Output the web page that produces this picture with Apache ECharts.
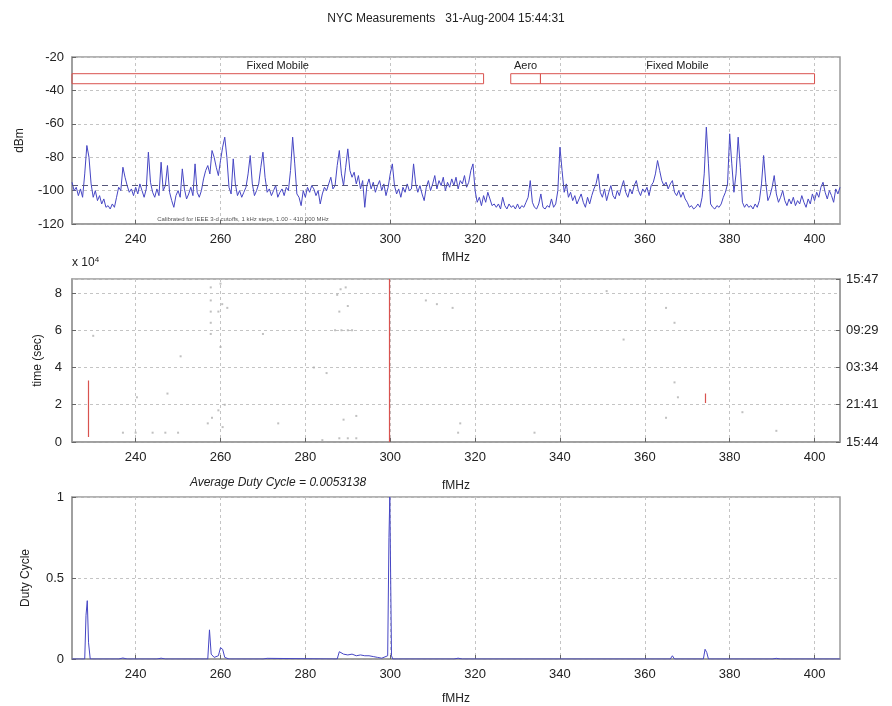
<!DOCTYPE html>
<html>
<head>
<meta charset="utf-8">
<script src="https://cdn.jsdelivr.net/npm/echarts@6/dist/echarts.min.js"></script>
<style>
html,body{margin:0;padding:0;background:#fff;}
#chart{width:892px;height:706px;}
</style>
</head>
<body>
<div id="chart"></div>
<script>
// ---------- data ----------
const titleText = 'NYC Measurements   31-Aug-2004 15:44:31';
const freqTicks = [240, 260, 280, 300, 320, 340, 360, 380, 400];
const freqStart = 225, freqStep = 0.5;   // sampling grid of the spectrum trace (MHz)
const spectrum = [
  -95,-100,-98,-103,-99,-104,-90,-73,-80,-96,
  -104,-100,-106,-103,-108,-105,-110,-109,-111,-108,
  -110,-104,-98,-100,-86,-92,-97,-101,-99,-103,
  -98,-102,-96,-100,-104,-99,-77,-95,-101,-104,
  -99,-103,-83,-100,-97,-85,-101,-106,-110,-103,
  -100,-104,-87,-99,-105,-102,-98,-103,-84,-101,
  -104,-100,-93,-88,-85,-90,-76,-80,-86,-91,
  -82,-74,-68,-80,-98,-102,-81,-96,-103,-100,
  -104,-101,-98,-90,-79,-96,-103,-100,-96,-86,
  -77,-92,-101,-99,-103,-100,-97,-104,-101,-99,
  -103,-98,-100,-88,-68,-84,-102,-104,-109,-100,
  -104,-98,-101,-97,-99,-103,-100,-108,-102,-98,
  -100,-96,-92,-99,-97,-85,-76,-90,-97,-86,
  -75,-88,-92,-89,-96,-91,-99,-94,-110,-97,
  -93,-99,-95,-101,-97,-94,-100,-96,-103,-98,
  -90,-84,-97,-102,-99,-104,-98,-101,-96,-100,
  -99,-84,-96,-101,-97,-102,-106,-98,-94,-100,
  -96,-91,-99,-94,-97,-92,-100,-95,-98,-93,
  -97,-92,-99,-94,-96,-91,-98,-95,-88,-84,
  -100,-107,-104,-109,-103,-107,-101,-105,-109,-108,
  -110,-108,-111,-104,-109,-111,-108,-110,-109,-111,
  -108,-111,-109,-110,-107,-104,-94,-107,-110,-111,
  -108,-102,-110,-111,-109,-110,-105,-110,-108,-100,
  -74,-88,-101,-96,-104,-101,-106,-103,-108,-105,
  -102,-107,-110,-104,-108,-103,-99,-96,-90,-101,
  -104,-99,-106,-101,-97,-103,-105,-100,-103,-98,
  -94,-101,-104,-99,-102,-97,-94,-100,-103,-99,
  -101,-98,-103,-97,-95,-90,-82,-88,-94,-97,
  -95,-99,-96,-94,-101,-103,-100,-104,-101,-105,
  -107,-110,-109,-111,-110,-108,-110,-104,-90,-62,
  -84,-108,-110,-111,-109,-110,-108,-104,-101,-96,
  -66,-84,-101,-90,-68,-86,-107,-110,-108,-110,
  -109,-111,-108,-110,-106,-96,-79,-95,-106,-103,
  -98,-91,-102,-107,-104,-100,-106,-109,-105,-108,
  -104,-109,-106,-108,-103,-107,-110,-105,-108,-102,
  -106,-101,-104,-98,-95,-101,-105,-100,-103,-107,-99,-102,-98
];
const thresholdDbm = -97;
const bandNames = ['Fixed Mobile', 'Aero', 'Fixed Mobile'];
const bandStart = [225, 328.4, 335.4];
const bandEnd   = [322, 335.4, 400];
const bandTop = -30, bandBottom = -36;
const footnote = 'Calibrated for IEEE 3-d cutoffs, 1 kHz steps, 1.00 - 410.000 MHz';

// middle panel (time in units of 1e4 s)
const timeMax = 8.75;
const timeRightValues = [0, 2, 4, 6, 8.75];
const timeRightLabels = ['15:44', '21:41', '03:34', '09:29', '15:47'];
const hitFreq  = [228.8, 299.7, 374.3];
const hitStart = [0.27, 0, 2.1];
const hitEnd   = [3.3, 8.75, 2.6];
const occFreq = [257.7,257.7,257.7,257.7,257.7,260.4,261.6,259.5,260,260,
  287.5,288.3,288,290,287,288.5,290,291,289.5,
  250.6,240.3,247.5,257,258,259.5,260.5,261,273.6,289,292,
  237,240,244,247,250,288,290,292,284,
  308.4,311,314.7,351,365,367,316,316.5,334,365,367.8,383,391,355,282,230,270,285,367];
const occTime = [8.3,7.6,7.0,6.4,5.8,7.4,7.2,7.0,8.5,5.1,
  7.9,8.2,7.0,7.3,6.0,6.0,6.0,6.0,8.3,
  4.6,2.4,2.6,1.0,1.3,1.7,0.8,2.0,1.0,1.2,1.4,
  0.5,0.5,0.5,0.5,0.5,0.2,0.2,0.2,0.1,
  7.6,7.4,7.2,8.1,7.2,6.4,0.5,1.0,0.5,1.3,2.4,1.6,0.6,5.5,4.0,5.7,5.8,3.7,3.2];

// bottom panel
const dutyTitle = 'Average Duty Cycle = 0.0053138';
const dutyFreq = [225,228.0,228.3,228.6,228.9,229.3,236,237,238,245,246,247,
  257.0,257.4,257.8,258.5,259.5,260.0,260.5,261.0,262,270,271,
  287.5,288.0,289,290,291,292,293,294,295,296,297,298,
  299.4,299.7,299.9,300.1,300.3,300.6,302,315,316,317,
  366.0,366.5,367.0,373.8,374.2,374.6,375.0,390,391,392,406];
const dutyVal = [0,0,0.27,0.36,0.1,0,0,0.006,0,0,0.005,0,
  0,0.18,0.03,0.01,0.02,0.07,0.06,0.01,0,0,0.004,
  0,0.045,0.03,0.025,0.03,0.02,0.025,0.02,0.02,0.015,0.01,0.005,
  0.02,0.75,1.0,0.5,0.02,0,0,0,0.005,0,
  0,0.02,0,0,0.06,0.04,0,0,0.004,0,0];

// ---------- chart ----------
const FONT = '"Liberation Sans", Arial, sans-serif';
const TXT = '#222';
const FRAME = '#9a9a9a';
const gridLine = { show: true, lineStyle: { color: '#c4c4c4', type: [3, 3], width: 1 } };
const axisLine = { show: true, lineStyle: { color: FRAME, width: 1.5 } };
const label = { color: TXT, fontFamily: FONT, fontSize: 13 };
const blue = '#4646c4';
const red = '#d9534f';

function xAxisFor(gridIndex, nameGap) {
  return {
    type: 'value', gridIndex, min: 225, max: 406,
    name: 'fMHz', nameLocation: 'middle', nameGap,
    nameTextStyle: { color: TXT, fontFamily: FONT, fontSize: 12 },
    axisLine, splitLine: gridLine,
    axisTick: { show: true, inside: true, length: 4, customValues: freqTicks, lineStyle: { color: '#666' } },
    axisLabel: Object.assign({ customValues: freqTicks, margin: 9 }, label)
  };
}

const topData = spectrum.map((v, i) => [freqStart + i * freqStep, v]);
const occData = occFreq.map((f, i) => [f, occTime[i]]);
const hitData = hitFreq.map((f, i) => ({ coords: [[f, hitStart[i]], [f, hitEnd[i]]] }));
const dutyData = dutyFreq.map((f, i) => [f, dutyVal[i]]);
const bandData = bandNames.map((n, i) => [
  { name: n, coord: [bandStart[i], bandTop] },
  { coord: [bandEnd[i], bandBottom] }
]);

const gridBox = { show: true, borderColor: FRAME, borderWidth: 1.5, backgroundColor: '#fff' };

const chart = echarts.init(document.getElementById('chart'), null, { renderer: 'canvas' });
chart.setOption({
  backgroundColor: '#fff',
  animation: false,
  title: {
    text: titleText, left: 'center', top: 8,
    textStyle: { color: TXT, fontFamily: FONT, fontSize: 12, fontWeight: 'normal' }
  },
  grid: [
    Object.assign({ left: 72, right: 52, top: 57, height: 167 }, gridBox),
    Object.assign({ left: 72, right: 52, top: 279, height: 163 }, gridBox),
    Object.assign({ left: 72, right: 52, top: 497, height: 165 }, gridBox)
  ],
  xAxis: [xAxisFor(0, 28), xAxisFor(1, 38), xAxisFor(2, 34)],
  yAxis: [
    {
      type: 'value', gridIndex: 0, min: -120, max: -20, interval: 20,
      name: 'dBm', nameLocation: 'middle', nameGap: 46, nameRotate: 90,
      nameTextStyle: { color: TXT, fontFamily: FONT, fontSize: 12 },
      axisLine, splitLine: gridLine,
      axisTick: { show: true, inside: true, length: 4, lineStyle: { color: '#666' } },
      axisLabel: Object.assign({ margin: 8 }, label)
    },
    {
      type: 'value', gridIndex: 1, min: 0, max: timeMax, interval: 2,
      name: 'time (sec)', nameLocation: 'middle', nameGap: 24, nameRotate: 90,
      nameTextStyle: { color: TXT, fontFamily: FONT, fontSize: 12 },
      axisLine, splitLine: gridLine,
      axisTick: { show: true, inside: true, length: 4, lineStyle: { color: '#666' } },
      axisLabel: Object.assign({ margin: 10, showMaxLabel: false }, label)
    },
    {
      type: 'value', gridIndex: 1, min: 0, max: timeMax, position: 'right',
      axisLine, splitLine: { show: false },
      axisTick: { show: true, inside: true, length: 4, customValues: timeRightValues, lineStyle: { color: '#666' } },
      axisLabel: Object.assign({
        customValues: timeRightValues, margin: 6,
        formatter: v => timeRightLabels[timeRightValues.indexOf(v)] || ''
      }, label)
    },
    {
      type: 'value', gridIndex: 2, min: 0, max: 1, interval: 0.5,
      name: 'Duty Cycle', nameLocation: 'middle', nameGap: 40, nameRotate: 90,
      nameTextStyle: { color: TXT, fontFamily: FONT, fontSize: 12 },
      axisLine, splitLine: gridLine,
      axisTick: { show: true, inside: true, length: 4, lineStyle: { color: '#666' } },
      axisLabel: Object.assign({ margin: 8, formatter: v => String(v) }, label)
    }
  ],
  series: [
    {
      type: 'line', xAxisIndex: 0, yAxisIndex: 0, data: topData,
      symbol: 'none', lineStyle: { color: blue, width: 1 },
      markLine: {
        silent: true, symbol: 'none', label: { show: false },
        lineStyle: { color: '#56567a', type: [6, 4], width: 1 },
        data: [{ yAxis: thresholdDbm }]
      },
      markArea: {
        silent: true,
        itemStyle: { color: 'rgba(255,255,255,0)', borderColor: red, borderWidth: 1 },
        label: { show: true, position: 'top', distance: 2, color: TXT, fontFamily: FONT, fontSize: 11 },
        data: bandData
      }
    },
    {
      type: 'scatter', xAxisIndex: 1, yAxisIndex: 1, data: occData,
      symbol: 'rect', symbolSize: 2, itemStyle: { color: '#b0b0b0' }
    },
    {
      type: 'lines', coordinateSystem: 'cartesian2d', xAxisIndex: 1, yAxisIndex: 1,
      data: hitData, lineStyle: { color: red, width: 1.2, opacity: 1 }
    },
    {
      type: 'line', xAxisIndex: 2, yAxisIndex: 3, data: dutyData,
      symbol: 'none', lineStyle: { color: blue, width: 1 }
    }
  ],
  graphic: [
    {
      type: 'text', left: 72, top: 256,
      style: {
        text: 'x 10{sup|4}', fill: TXT, font: '12px ' + FONT,
        rich: { sup: { fontSize: 8, verticalAlign: 'top', padding: [0, 0, 6, 0], fill: TXT } }
      }
    },
    {
      type: 'text', x: 278, y: 483,
      style: { text: dutyTitle, fill: TXT, font: 'italic 12px ' + FONT, textAlign: 'center', textVerticalAlign: 'middle' }
    },
    {
      type: 'text', x: 243, y: 219,
      style: { text: footnote, fill: '#555', font: '6px ' + FONT, textAlign: 'center', textVerticalAlign: 'middle' }
    }
  ]
});
</script>
</body>
</html>
